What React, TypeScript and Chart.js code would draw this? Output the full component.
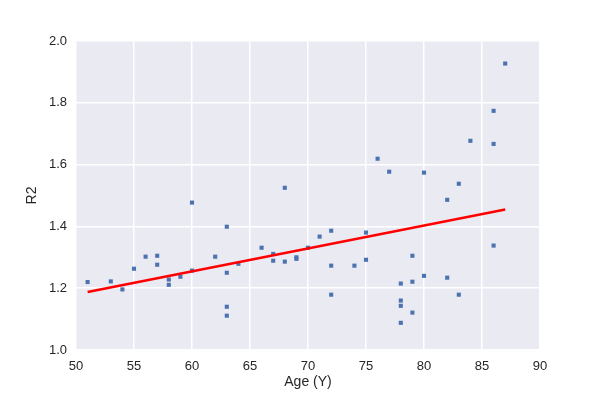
import React, { useEffect, useRef } from "react";
import { Chart, registerables } from "chart.js";

Chart.register(...registerables);

const ages = [51, 53, 54, 55, 56, 57, 57, 58, 58, 59, 60, 60, 62, 63, 63, 63, 63, 64, 66, 67, 67, 68, 68, 69, 69, 70, 71, 72, 72, 72, 74, 75, 75, 76, 77, 78, 78, 78, 78, 79, 79, 79, 80, 80, 82, 82, 83, 83, 84, 86, 86, 86, 87];
const r2Values = [1.22, 1.222, 1.196, 1.263, 1.302, 1.305, 1.276, 1.228, 1.211, 1.237, 1.477, 1.257, 1.302, 1.399, 1.25, 1.14, 1.111, 1.279, 1.331, 1.311, 1.289, 1.525, 1.286, 1.30, 1.295, 1.331, 1.367, 1.386, 1.273, 1.179, 1.273, 1.38, 1.292, 1.619, 1.577, 1.215, 1.16, 1.143, 1.088, 1.305, 1.221, 1.121, 1.574, 1.24, 1.486, 1.234, 1.538, 1.179, 1.677, 1.774, 1.667, 1.338, 1.927];
const fitX = [51, 87];
const fitY = [1.188, 1.455];
const xTicks = [50, 55, 60, 65, 70, 75, 80, 85, 90];
const yTicks = [1.0, 1.2, 1.4, 1.6, 1.8, 2.0];

export default function App() {
  const ref = useRef<HTMLCanvasElement | null>(null);
  useEffect(() => {
    if (!ref.current) return;
    const font = { family: "'Liberation Sans', Arial, sans-serif", size: 13 };
    const chart = new Chart(ref.current, {
      type: "scatter",
      data: {
        datasets: [
          {
            type: "line",
            data: fitX.map((x, i) => ({ x, y: fitY[i] })),
            borderColor: "#FF0000",
            borderWidth: 2.5,
            pointRadius: 0,
            showLine: true,
            fill: false,
          } as any,
          {
            data: ages.map((x, i) => ({ x, y: r2Values[i] })),
            pointStyle: "rect",
            pointRadius: 2.9,
            pointBorderWidth: 0,
            backgroundColor: "#4C72B0",
            borderColor: "#4C72B0",
          },
        ],
      },
      options: {
        animation: false,
        responsive: false,
        layout: { padding: { top: 41, right: 60, left: 0, bottom: 0 } },
        plugins: { legend: { display: false }, tooltip: { enabled: false } },
        scales: {
          x: {
            type: "linear",
            min: 50,
            max: 90,
            afterBuildTicks: (s: any) => { s.ticks = xTicks.map((v) => ({ value: v })); },
            afterFit: (s: any) => { s.height = 50; },
            grid: { color: "#FFFFFF", lineWidth: 1.5, drawTicks: false },
            border: { display: false },
            ticks: { color: "#262626", font, padding: 9, callback: (v: any) => String(v) },
            title: { display: true, text: "Age (Y)", color: "#262626", font: { ...font, size: 14 }, padding: { top: 0, bottom: 9 } },
          },
          y: {
            type: "linear",
            min: 1.0,
            max: 2.0,
            afterBuildTicks: (s: any) => { s.ticks = yTicks.map((v) => ({ value: v })); },
            afterFit: (s: any) => { s.width = 76; },
            grid: { color: "#FFFFFF", lineWidth: 1.5, drawTicks: false },
            border: { display: false },
            ticks: { color: "#262626", font, padding: 9, callback: (v: any) => Number(v).toFixed(1) },
            title: { display: true, text: "R2", color: "#262626", font: { ...font, size: 14 }, padding: { top: 24, bottom: 0 } },
          },
        },
      },
      plugins: [
        {
          id: "bg",
          beforeDraw: (c: any) => {
            const { ctx, chartArea } = c;
            ctx.save();
            ctx.fillStyle = "#FFFFFF";
            ctx.fillRect(0, 0, c.width, c.height);
            ctx.fillStyle = "#EAEAF2";
            ctx.fillRect(chartArea.left, chartArea.top, chartArea.right - chartArea.left, chartArea.bottom - chartArea.top);
            ctx.restore();
          },
        },
      ],
    });
    return () => chart.destroy();
  }, []);
  return (
    <div style={{ position: "fixed", left: 0, top: 0, width: 600, height: 400, background: "#fff" }}>
      <canvas ref={ref} width={600} height={400} style={{ width: 600, height: 400 }} />
    </div>
  );
}
